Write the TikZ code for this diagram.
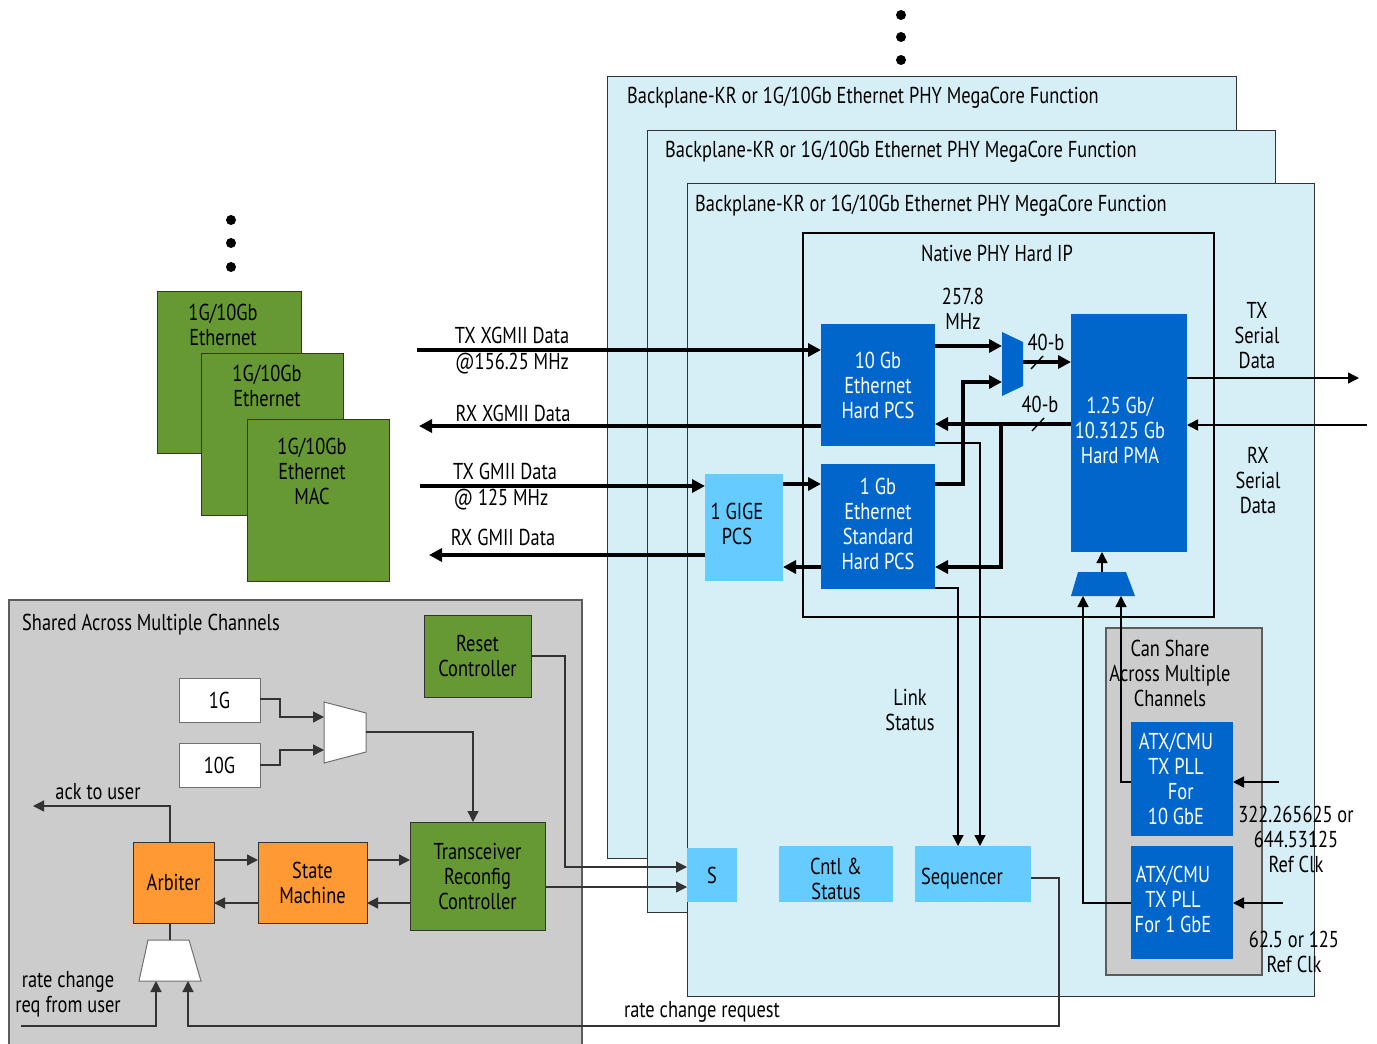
\documentclass[tikz,border=0pt]{standalone}
\usepackage{fontspec}
\setmainfont{PT Sans}[FakeStretch=0.80]
\usetikzlibrary{arrows.meta}
\definecolor{panelbg}{HTML}{D6EEF6}
\definecolor{dblue}{HTML}{0066CC}
\definecolor{lcyan}{HTML}{66CCFF}
\definecolor{grn}{HTML}{669933}
\definecolor{org}{HTML}{FF9933}
\definecolor{gry}{HTML}{CCCCCC}
\definecolor{edge}{HTML}{333333}
\newcommand\bx[7]{%
  \pgfmathsetmacro\bxcx{(#3+#5)/2}\pgfmathsetmacro\bxcy{(#4+#6)/2}%
  \pgfmathsetmacro\bxw{#5-#3}\pgfmathsetmacro\bxh{#6-#4}%
  \node[#2,minimum width=\bxw pt,minimum height=\bxh pt] (#1) at (\bxcx,\bxcy) {#7};}
\begin{document}
\begin{tikzpicture}[x=1pt,y=-1pt,font=\fontsize{23}{25}\selectfont,
  box/.style={inner sep=0pt,outer sep=0pt,align=center},
  panel/.style={box,fill=panelbg,draw=edge,line width=1pt},
  bluebox/.style={box,fill=dblue,text=white},
  cyanbox/.style={box,fill=lcyan},
  greenbox/.style={box,fill=grn,draw=edge,line width=1pt},
  orgbox/.style={box,fill=org,draw=edge,line width=1pt},
  whitebox/.style={box,fill=white,draw=edge!70,line width=1pt},
  graybox/.style={box,fill=gry,draw=edge!80,line width=1.3pt},
  lbl/.style={inner sep=0pt,align=center},
  fat/.style={line width=3.6pt,-{Triangle[length=13pt,width=13pt]}},
  thin/.style={line width=1.4pt,-{Triangle[length=11pt,width=11pt]}},
  gthin/.style={line width=1.3pt,draw=edge,-{Triangle[length=11pt,width=11pt]}},
  gline/.style={line width=1.3pt,draw=edge},
  dot/.style={circle,fill=black,inner sep=0pt,minimum size=10pt}]
\useasboundingbox (0,0) rectangle (1377,1044);

% dots
\node[dot] (d1) at (901,15) {};
\node[dot] (d2) at (901,37) {};
\node[dot] (d3) at (901,60) {};
\node[dot] (d4) at (231,220) {};
\node[dot] (d5) at (231,243) {};
\node[dot] (d6) at (231,267) {};

% panels
\bx{p1}{panel}{607}{76}{1236}{858}{}
\node[lbl,anchor=west] (p1t) at (627,98) {Backplane-KR or 1G/10Gb Ethernet PHY MegaCore Function};
\bx{p2}{panel}{647}{130}{1275}{912}{}
\node[lbl,anchor=west] (p2t) at (665,152) {Backplane-KR or 1G/10Gb Ethernet PHY MegaCore Function};
\bx{p3}{panel}{687}{183}{1314}{996}{}
\node[lbl,anchor=west] (p3t) at (695,206) {Backplane-KR or 1G/10Gb Ethernet PHY MegaCore Function};

% native PHY
\bx{nat}{box,draw=black,line width=2.5pt}{803}{233}{1214}{617}{}
\node[lbl] (natt) at (997,253) {Native PHY Hard IP};

\bx{pcs10}{bluebox}{821}{324}{935}{446}{10 Gb\\Ethernet\\Hard PCS}
\bx{pcs1}{bluebox}{821}{464}{935}{589}{}
\node[lbl,text=white] (pcs1t) at (878,524) {1 Gb\\Ethernet\\Standard\\Hard PCS};
\bx{gige}{cyanbox}{705}{474}{783}{581}{}
\node[lbl] (giget) at (737,524) {1 GIGE\\PCS};
\bx{pma}{bluebox}{1071}{314}{1187}{552}{}
\node[lbl,text=white] (pmat) at (1120,430) {1.25 Gb/\\10.3125 Gb\\Hard PMA};

% muxes
\fill[dblue] (1002,332) -- (1023,342) -- (1023,386) -- (1002,396) -- cycle;
\coordinate (muxa) at (1002,346);
\coordinate (muxb) at (1002,382);
\coordinate (muxo) at (1023,362);
\fill[dblue] (1078,572) -- (1126,572) -- (1135,596) -- (1071,596) -- cycle;
\coordinate (pmuxo) at (1102,572);
\coordinate (pmuxa) at (1083,596);
\coordinate (pmuxb) at (1121,596);

\node[lbl] (f257) at (963,309) {257.8\\MHz};
\node[lbl] (b40a) at (1046,342) {40-b};
\node[lbl] (b40b) at (1040,404) {40-b};

% shared PLL box
\bx{can}{graybox}{1106}{628}{1262}{975}{}
\node[lbl] (cant) at (1170,673) {Can Share\\Across Multiple\\Channels};
\bx{atx10}{bluebox}{1131}{722}{1233}{836}{}
\node[lbl,text=white] (atx10t) at (1176,779) {ATX/CMU\\TX PLL\\\hphantom{x}For\\10 GbE};
\bx{atx1}{bluebox}{1131}{846}{1233}{959}{}
\node[lbl,text=white] (atx1t) at (1173,899) {ATX/CMU\\TX PLL\\For 1 GbE};

% S, cntl, sequencer
\bx{sb}{cyanbox}{687}{848}{737}{902}{S}
\bx{cntl}{cyanbox}{779}{846}{893}{902}{}
\node[lbl] (cntlt) at (836,879) {Cntl \&\\Status};
\bx{seq}{cyanbox}{915}{846}{1031}{902}{}
\node[lbl] (seqt) at (962,879) {Sequencer};

\node[lbl] (link) at (910,710) {Link\\Status};
\node[lbl] (txs) at (1257,336) {TX\\Serial\\Data};
\node[lbl] (rxs) at (1258,480) {RX\\Serial\\Data};
\node[lbl] (rc1) at (1296,839) {322.265625 or\\644.53125\\Ref Clk};
\node[lbl] (rc2) at (1294,952) {62.5 or 125\\Ref Clk};

% MAC boxes
\bx{mac1}{greenbox}{157}{291}{301}{453}{}
\node[lbl] (mac1t) at (223,325) {1G/10Gb\\Ethernet};
\bx{mac2}{greenbox}{201}{353}{343}{515}{}
\node[lbl] (mac2t) at (267,386) {1G/10Gb\\Ethernet};
\bx{mac3}{greenbox}{247}{419}{389}{581}{}
\node[lbl] (mac3t) at (312,471) {1G/10Gb\\Ethernet\\MAC};

% left labels
\node[lbl] (l1) at (512,335) {TX XGMII Data};
\node[lbl] (l2) at (512,364) {@156.25 MHz};
\node[lbl] (l3) at (513,413) {RX XGMII Data};
\node[lbl] (l4) at (505,471) {TX GMII Data};
\node[lbl] (l5) at (501,500) {@ 125 MHz};
\node[lbl] (l6) at (503,537) {RX GMII Data};

% shared area
\bx{sh}{graybox}{9}{600}{582}{1050}{}
\node[lbl,anchor=west] (sht) at (22,625) {Shared Across Multiple Channels};
\bx{rst}{greenbox}{424}{615}{531}{697}{Reset\\Controller}
\bx{g1}{whitebox}{179}{678}{260}{722}{1G}
\bx{g10}{whitebox}{179}{743}{260}{787}{10G}
\fill[white,draw=edge!70,line width=1pt] (324,702) -- (366,713) -- (366,752) -- (324,763) -- cycle;
\coordinate (wma) at (324,717);
\coordinate (wmb) at (324,750);
\coordinate (wmo) at (366,732);
\bx{trc}{greenbox}{410}{822}{545}{930}{Transceiver\\Reconfig\\Controller}
\bx{arb}{orgbox}{133}{842}{214}{923}{Arbiter}
\bx{sm}{orgbox}{258}{842}{367}{923}{State\\Machine}
\fill[white,draw=edge!70,line width=1pt] (148,940) -- (189,940) -- (201,981) -- (139,981) -- cycle;
\coordinate (ama) at (156,981);
\coordinate (amb) at (188,981);
\coordinate (amt) at (170,940);
\node[lbl] (ack) at (98,792) {ack to user};
\node[lbl] (rcu) at (68,994) {rate change\\req from user};
\node[lbl] (rcr) at (702,1012) {rate change request};

% thick connectors
\coordinate (txx) at (417,350);
\coordinate (rxx) at (419,426);
\coordinate (txg) at (420,486);
\coordinate (rxg) at (429,555);
\draw[fat] (txx) -- (txx -| pcs10.west);
\draw[fat] (rxx -| pcs10.west) -- (rxx);
\draw[fat] (txg) -- (txg -| gige.west);
\draw[fat] (rxg -| gige.west) -- (rxg);
\draw[fat] (gige.east |- 0,484) -- (pcs1.west |- 0,484);
\draw[fat] (pcs1.west |- 0,567) -- (gige.east |- 0,567);
\draw[fat] (pcs10.east |- muxa) -- (muxa);
\draw[fat] (pcs1.east |- 0,484) -- (963,484) -- (963,382) -- (muxb);
\draw[fat] (muxo) -- (muxo -| pma.west);
\draw[fat] (pma.west |- 0,424) -- (pcs10.east |- 0,424);
\draw[fat] (1001,424) -- (1001,567) -- (pcs1.east |- 0,567);
\draw[line width=1.4pt] (1031,369) -- (1043,356);
\draw[line width=1.4pt] (1032,431) -- (1044,418);

% thin connectors
\coordinate (txso) at (1359,378);
\coordinate (rxsi) at (1367,425);
\draw[thin] (pma.east |- txso) -- (txso);
\draw[thin] (rxsi) -- (rxsi -| pma.east);
\draw[thin] (pcs10.east |- 0,443) -- (980,443) -- (980,846);
\draw[thin] (pcs1.east |- 0,588) -- (958,588) -- (958,846);
\draw[thin] (pmuxo) -- (pmuxo |- pma.south);
\draw[thin] (atx10.west |- 0,782) -- (1121,782) -- (pmuxb);
\draw[thin] (atx1.west |- 0,903) -- (1083,903) -- (pmuxa);
\coordinate (rf10) at (1279,782);
\coordinate (rf1) at (1283,903);
\draw[thin] (rf10) -- (rf10 -| atx10.east);
\draw[thin] (rf1) -- (rf1 -| atx1.east);
\draw[gthin] (seq.east |- 0,878) -- (1059,878) -- (1059,1026) -- (188,1026) -- (amb);
\coordinate (rcin) at (21,1026);
\draw[gthin] (rcin) -- (156,1026) -- (ama);
\coordinate (acko) at (33,806);
\draw[gthin] (arb.north -| 170,0) -- (170,806) -- (acko);
\draw[gline] (arb.south -| 170,0) -- (amt);
\draw[gthin] (arb.east |- 0,860) -- (sm.west |- 0,860);
\draw[gthin] (sm.west |- 0,903) -- (arb.east |- 0,903);
\draw[gthin] (sm.east |- 0,860) -- (trc.west |- 0,860);
\draw[gthin] (trc.west |- 0,903) -- (sm.east |- 0,903);
\draw[gthin] (g1.east |- 0,699) -- (280,699) -- (280,717) -- (wma);
\draw[gthin] (g10.east |- 0,765) -- (280,765) -- (280,750) -- (wmb);
\draw[gthin] (wmo) -- (473,732) -- (trc.north -| 473,0);
\draw[gthin] (rst.east |- 0,656) -- (565,656) -- (565,867) -- (sb.west |- 0,867);
\draw[gthin] (trc.east |- 0,887) -- (sb.west |- 0,887);
\end{tikzpicture}
\end{document}
